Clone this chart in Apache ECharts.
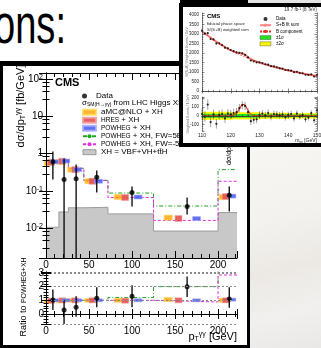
<!DOCTYPE html>
<html><head><meta charset="utf-8">
<script src="https://cdn.jsdelivr.net/npm/echarts@6.0.0/dist/echarts.min.js"></script>
<style>
html,body{margin:0;padding:0;width:321px;height:348px;overflow:hidden;background:#fff;position:relative;font-family:"Liberation Sans",Arial,sans-serif;}
#title{position:absolute;left:-6px;top:-4px;font-size:56px;line-height:56px;transform:scaleX(0.68);transform-origin:0 0;white-space:nowrap;color:#000;}
#photo{position:absolute;left:249px;top:146px;width:72px;height:202px;background:linear-gradient(165deg,#f7f6f3 0%,#f3f2ee 35%,#ece9e5 60%,#f1f0ee 80%,#e9e8e6 100%);}
#frame{position:absolute;left:0;top:61px;width:250px;height:287px;box-sizing:border-box;border-style:solid;border-color:#000;border-width:5px 3px 3px 3px;background:#fff;}
#main{position:absolute;left:0;top:0;width:321px;height:348px;}
#topbar{position:absolute;left:180px;top:0;width:68px;height:4px;background:#000;}
#strip{position:absolute;left:248px;top:0;width:73px;height:3px;background:#e4e4e4;}
#inset{position:absolute;left:179px;top:3px;width:150px;height:144px;box-sizing:border-box;border:4px solid #000;background:#fff;overflow:hidden;}
#insetChart{position:absolute;left:0;top:0;width:142px;height:136px;}
</style></head>
<body>
<div id="title">ons:</div>
<div id="photo"></div>
<div id="frame"></div>
<div id="main"></div>
<div id="strip"></div>
<div id="topbar"></div>
<div id="inset"><div id="insetChart"></div></div>
<script>
// ---------------- main plot data ----------------
const binEdges   = [0, 15, 26, 44, 72, 125, 200, 222];
const xhValues   = [0.0105, 0.027, 0.035, 0.036, 0.024, 0.0083, 0.026];
const fwPosValues= [0.60, 0.69, 0.40, 0.19, 0.087, 0.039, 0.37];
const fwNegValues= [0.60, 0.69, 0.40, 0.19, 0.066, 0.016, 0.18];
const dataX  = [8, 21, 35, 59, 100, 164, 213];
const dataY  = [0.60, 0.20, 0.21, 0.23, 0.090, 0.038, 0.076];
const dataLo = [0.20, 0.001, 0.001, 0.090, 0.038, 0.023, 0.028];
const dataHi = [1.13, 0.73, 0.51, 0.35, 0.13, 0.066, 0.13];
const amcX  = [3, 17, 30, 50, 84, 142, 206];
const amcY  = [0.55, 0.60, 0.37, 0.18, 0.068, 0.019, 0.068];
const hresX = [6, 19, 34, 54, 92, 154, 209];
const hresY = [0.58, 0.62, 0.37, 0.18, 0.066, 0.018, 0.070];
const powX  = [10, 23, 37, 61, 107, 175, 216];
const powY  = [0.60, 0.63, 0.37, 0.18, 0.068, 0.018, 0.072];
// ratio panel
const ratioDataY  = [1.03, 0.30, 0.50, 1.15, 1.30, 2.00, 1.10];
const ratioDataLo = [0.30, -1.0, -0.20, 0.50, 0.50, 1.25, 0.45];
const ratioDataHi = [1.80, 1.00, 1.30, 1.95, 2.10, 2.75, 1.95];
const ratioAmc  = [0.90, 0.95, 1.00, 1.00, 1.00, 1.05, 1.00];
const ratioHres = [0.97, 1.00, 1.00, 1.00, 0.97, 1.00, 1.00];
const ratioPow  = [1.00, 1.00, 1.00, 1.00, 1.00, 1.00, 1.05];
const ratioFwPos = [1.00, 1.00, 1.00, 1.00, 1.20, 2.00, 4.00];
const ratioFwNeg = [1.00, 1.00, 1.00, 1.00, 1.00, 0.88, 2.85];
const xTickLabels = [0, 50, 100, 150, 200];

// ---------------- inset data ----------------
const massPoints = [110,111,112,113,114,115,116,117,118,119,120,121,122,123,124,125,126,127,128,129,130,131,132,133,134,135,136,137,138,139,140,141,142,143,144,145,146,147,148,149,150];
const bkgFit = [3150,3030,2914,2803,2696,2593,2494,2399,2307,2219,2141,2065,1992,1921,1853,1787,1724,1663,1604,1547,1492,1445,1400,1356,1313,1272,1232,1193,1156,1119,1084,1050,1017,985,954,924,895,867,840,813,788];
const sbFit  = [3150,3030,2914,2803,2696,2593,2494,2399,2307,2219,2143,2073,2022,2001,1975,1902,1786,1681,1608,1547,1492,1445,1400,1356,1313,1272,1232,1193,1156,1119,1084,1050,1017,985,954,924,895,867,840,813,788];
const dataCounts = [3170,3020,3039,2733,2711,2503,2504,2419,2277,2244,2156,2095,2032,2006,1973,1897,1764,1603,1559,1507,1502,1470,1405,1386,1303,1292,1247,1198,1171,1104,1094,1070,987,1010,944,934,855,847,870,763,848];
const residuals = [20,-10,125,-70,15,-90,10,20,-30,25,15,30,40,85,120,110,40,-60,-45,-40,10,25,5,30,-10,20,15,5,15,-15,10,20,-30,25,-10,10,-40,-20,30,-50,60];
const residErr = [60,58,57,56,55,54,53,52,51,50,50,49,48,47,46,46,45,44,43,43,42,41,41,40,40,39,38,38,37,37,36,36,35,35,34,34,33,33,32,32,31];
const signalMass  = [110,119.5,120,120.5,121,121.5,122,122.5,123,123.5,124,124.5,125,125.5,126,126.5,127,127.5,128,128.5,129,150];
const signalShape = [0,0,2,4,8,16,30,52,80,106,122,128,115,90,62,36,18,8,4,1,0,0];
const bandEdges = [110, 120, 130, 140, 150];
const band1Sigma = [22, 20, 17, 15];
const band2Sigma = [45, 40, 34, 30];

// ---------------- helpers ----------------
const FONT = '"Liberation Sans", Arial, sans-serif';
const Y_MIN = 0.00157, Y_MAX = 145, R_MIN = -0.73, R_MAX = 3.07, X_MAX = 222;
function steps(edges, vals){ const o=[]; for(let i=0;i<vals.length;i++) o.push([edges[i], vals[i]]); o.push([edges[edges.length-1], vals[vals.length-1]]); return o; }
function pairs(xs, ys){ return xs.map((x,i)=>[x, ys[i]]); }
function errData(xs, lo, hi, floor){ return xs.map((x,i)=>[x, Math.max(lo[i], floor), hi[i]]); }
function errSeries(name, xi, yi, data, color, w, z){
  return {type:'custom', name, xAxisIndex:xi, yAxisIndex:yi, z:z||4, silent:true, data,
    encode:{x:0, y:[1,2]},
    renderItem:(p, api)=>{ const a=api.coord([api.value(0), api.value(1)]); const b=api.coord([api.value(0), api.value(2)]);
      return {type:'line', shape:{x1:a[0],y1:a[1],x2:b[0],y2:b[1]}, style:{stroke:color, lineWidth:w}}; }};
}
function logLabel(v){ const l=Math.log10(v); const e=Math.round(l); if(Math.abs(l-e)>1e-6) return ''; if(e===0) return '1'; if(e===1) return '10'; return '10{sup|'+e+'}'; }
const axLine = {show:true, lineStyle:{color:'#000', width:1}};
function xAx(grid, pos, labels, tl, ml){
  return {type:'value', gridIndex:grid, position:pos, min:0, max:X_MAX, interval:50, z:10,
    axisLine:axLine, splitLine:{show:false},
    axisTick:{show:true, inside:true, length:tl, lineStyle:{color:'#000'}},
    minorTick:{show:true, splitNumber:5, length:ml, lineStyle:{color:'#000'}},
    axisLabel:{show:labels, fontSize:10, color:'#000', margin:2, fontFamily:FONT,
      formatter:v=> xTickLabels.indexOf(v)>=0 ? String(v) : ''}};
}
const markerStyle = {
  amc:{color:'#ffa200', borderColor:'#ffd84a', borderWidth:0.8},
  hres:{color:'#e4504f', borderColor:'#f2a0a0', borderWidth:0.6, opacity:0.9},
  pow:{color:'#4f60f2', borderColor:'#a8b0ff', borderWidth:0.6, opacity:0.9}
};
const richSmall = {
  sup:{fontSize:7, verticalAlign:'top', lineHeight:8, fontFamily:FONT, color:'#000'},
  sub:{fontSize:7, verticalAlign:'bottom', lineHeight:8, fontFamily:FONT, color:'#000'},
  sc:{fontSize:7, fontFamily:FONT, color:'#000'}
};

const mainChart = echarts.init(document.getElementById('main'), null, {renderer:'canvas'});
mainChart.setOption({
  animation:false,
  backgroundColor:'transparent',
  textStyle:{fontFamily:FONT},
  grid:[
    {left:46, top:73, width:191, height:185, outerBoundsMode:'none', containLabel:false},
    {left:46, top:272, width:191, height:52, outerBoundsMode:'none', containLabel:false}
  ],
  xAxis:[ xAx(0,'bottom',true,7,4), xAx(0,'top',false,7,4), xAx(1,'bottom',true,5,3), xAx(1,'top',false,5,3) ],
  yAxis:[
    {type:'log', logBase:10, gridIndex:0, position:'left', min:Y_MIN, max:Y_MAX, z:10, axisLine:axLine, splitLine:{show:false},
     axisTick:{inside:true, length:7, lineStyle:{color:'#000'}}, minorTick:{show:true, splitNumber:5, length:3.5, lineStyle:{color:'#000'}},
     axisLabel:{fontSize:10, color:'#000', margin:3, fontFamily:FONT, formatter:logLabel, rich:richSmall}},
    {type:'log', logBase:10, gridIndex:0, position:'right', min:Y_MIN, max:Y_MAX, z:10, axisLine:axLine, splitLine:{show:false},
     axisTick:{inside:true, length:7, lineStyle:{color:'#000'}}, minorTick:{show:true, splitNumber:5, length:3.5, lineStyle:{color:'#000'}},
     axisLabel:{show:false}},
    {type:'value', gridIndex:1, position:'left', min:R_MIN, max:R_MAX, splitNumber:4, z:10, axisLine:axLine,
     splitLine:{show:true, lineStyle:{type:[2,2], color:'#8a8a8a', width:1}},
     axisTick:{inside:true, length:5, lineStyle:{color:'#000'}}, minorTick:{show:true, splitNumber:5, length:2.5, lineStyle:{color:'#000'}},
     axisLabel:{fontSize:10, color:'#000', margin:2, fontFamily:FONT, formatter:v=>Number.isInteger(v)?String(v):''}},
    {type:'value', gridIndex:1, position:'right', min:R_MIN, max:R_MAX, splitNumber:4, z:10, axisLine:axLine, splitLine:{show:false},
     axisTick:{inside:true, length:5, lineStyle:{color:'#000'}}, minorTick:{show:true, splitNumber:5, length:2.5, lineStyle:{color:'#000'}},
     axisLabel:{show:false}}
  ],
  legend:[
    {left:82, top:92, padding:0, orient:'vertical', itemWidth:13, itemHeight:5, itemGap:0, z:4,
     textStyle:{fontSize:8, lineHeight:8, color:'#000', fontFamily:FONT},
     data:[{name:'Data', icon:'circle'}]},
    {left:82, top:108.2, padding:0, orient:'vertical', itemWidth:13, itemHeight:5, itemGap:0, z:4,
     textStyle:{fontSize:8, lineHeight:7.7, color:'#000', fontFamily:FONT,
       rich:{sc:{fontSize:6.5, lineHeight:7.7, fontFamily:FONT, color:'#000'}, sup:{fontSize:5, lineHeight:5, verticalAlign:'top', fontFamily:FONT, color:'#000'}}},
     formatter:n=>n.replace('HRES','{sc|HRES}').replace('POWHEG','{sc|POWHEG}').replace('E-5','E{sup|-5}'),
     data:[{name:'aMC@NLO + XH', icon:'rect'}, {name:'HRES + XH', icon:'rect'}, {name:'POWHEG + XH', icon:'rect'},
           'POWHEG + XH, FW=5E-5 GeV', 'POWHEG + XH, FW=-5E-5 GeV',
           {name:'XH = VBF+VH+tt\u0304H', icon:'rect', itemStyle:{color:'#c8c8c8', borderColor:'#888', borderWidth:0.8}}]}
  ],
  graphic:[
    {type:'text', x:55, y:77, z:20, style:{text:'CMS', font:'bold 11px "Liberation Sans", Arial', fill:'#000'}},
    {type:'text', x:82, y:103, z:4, style:{text:'\u03c3{sub|SM(H\u2192\u03b3\u03b3)} from LHC Higgs XS WG', fontSize:8, fontFamily:FONT, fill:'#000', verticalAlign:'middle',
      rich:{sub:{fontSize:5, lineHeight:9, verticalAlign:'bottom', fontFamily:FONT, color:'#000'}}}},
    {type:'text', x:21, y:106, rotation:Math.PI/2, z:20, style:{text:'d\u03c3/dp{sub|T}{sup|\u03b3\u03b3} [fb/GeV]', fontSize:11, fontFamily:FONT, fill:'#000', align:'center', verticalAlign:'middle',
      rich:{sub:{fontSize:7, lineHeight:12, verticalAlign:'bottom', fontFamily:FONT, color:'#000'}, sup:{fontSize:7, lineHeight:12, verticalAlign:'top', fontFamily:FONT, color:'#000'}}}},
    {type:'text', x:24, y:297, rotation:Math.PI/2, z:20, style:{text:'Ratio to {sc|POWHEG+XH}', fontSize:9, fontFamily:FONT, fill:'#000', align:'center', verticalAlign:'middle',
      rich:{sc:{fontSize:7, fontFamily:FONT, color:'#000'}}}},
    {type:'text', x:237, y:337, z:20, style:{text:'p{sub|T}{sup|\u03b3\u03b3} [GeV]', fontSize:11, fontFamily:FONT, fill:'#000', align:'right', verticalAlign:'middle',
      rich:{sub:{fontSize:7, lineHeight:12, verticalAlign:'bottom', fontFamily:FONT, color:'#000'}, sup:{fontSize:7, lineHeight:12, verticalAlign:'top', fontFamily:FONT, color:'#000'}}}},
    {type:'text', x:229, y:156, rotation:Math.PI/2, z:20, style:{text:'d\u03c3/dp', fontSize:7, fontFamily:FONT, fill:'#000', align:'center', verticalAlign:'middle'}}
  ],
  series:[
    {name:'XH = VBF+VH+tt\u0304H', type:'line', step:'end', xAxisIndex:0, yAxisIndex:0, z:1, symbol:'none', silent:true,
     data:steps(binEdges, xhValues), lineStyle:{color:'#9c9c9c', width:1}, itemStyle:{color:'#c8c8c8'},
     areaStyle:{color:'#c8c8c8', opacity:1, origin:'start'}},
    {name:'POWHEG + XH, FW=5E-5 GeV', type:'line', step:'end', xAxisIndex:0, yAxisIndex:0, z:2, symbol:'none', silent:true,
     data:steps(binEdges, fwPosValues), lineStyle:{color:'#1fa51f', width:1, type:[4,2,1,2]}, itemStyle:{color:'#1fa51f'}},
    {name:'POWHEG + XH, FW=-5E-5 GeV', type:'line', step:'end', xAxisIndex:0, yAxisIndex:0, z:2, symbol:'none', silent:true,
     data:steps(binEdges, fwNegValues), lineStyle:{color:'#e62ee6', width:1, type:[3,2]}, itemStyle:{color:'#e62ee6'}},
    {name:'aMC@NLO + XH', type:'scatter', xAxisIndex:0, yAxisIndex:0, z:3, symbol:'rect', symbolSize:[8,5], data:pairs(amcX, amcY), itemStyle:markerStyle.amc},
    {name:'HRES + XH', type:'scatter', xAxisIndex:0, yAxisIndex:0, z:3, symbol:'rect', symbolSize:[7,6], data:pairs(hresX, hresY), itemStyle:markerStyle.hres},
    {name:'POWHEG + XH', type:'scatter', xAxisIndex:0, yAxisIndex:0, z:3, symbol:'rect', symbolSize:[8,4], data:pairs(powX, powY), itemStyle:markerStyle.pow},
    errSeries('Data err', 0, 0, errData(dataX, dataLo, dataHi, Y_MIN), '#000', 1.3, 4),
    {name:'Data', type:'scatter', xAxisIndex:0, yAxisIndex:0, z:5, symbol:'circle', symbolSize:5, data:pairs(dataX, dataY), itemStyle:{color:'#000'}},
    // ratio panel
    {name:'r fwpos', type:'line', step:'end', xAxisIndex:2, yAxisIndex:2, z:2, symbol:'none', silent:true,
     data:steps(binEdges, ratioFwPos), lineStyle:{color:'#1fa51f', width:1, type:[4,2,1,2]}},
    {name:'r fwneg', type:'line', step:'end', xAxisIndex:2, yAxisIndex:2, z:2, symbol:'none', silent:true,
     data:steps(binEdges, ratioFwNeg), lineStyle:{color:'#e62ee6', width:1, type:[3,2]}},
    {name:'r amc', type:'scatter', xAxisIndex:2, yAxisIndex:2, z:3, symbol:'rect', symbolSize:[8,4], data:pairs(amcX, ratioAmc), itemStyle:markerStyle.amc},
    {name:'r hres', type:'scatter', xAxisIndex:2, yAxisIndex:2, z:3, symbol:'rect', symbolSize:[7,5], data:pairs(hresX, ratioHres), itemStyle:markerStyle.hres},
    {name:'r pow', type:'scatter', xAxisIndex:2, yAxisIndex:2, z:3, symbol:'rect', symbolSize:[8,3], data:pairs(powX, ratioPow), itemStyle:markerStyle.pow},
    errSeries('r data err', 2, 2, errData(dataX, ratioDataLo, ratioDataHi, R_MIN), '#000', 1.3, 4),
    {name:'r data', type:'scatter', xAxisIndex:2, yAxisIndex:2, z:5, symbol:'circle', symbolSize:5, data:pairs(dataX, ratioDataY), itemStyle:{color:'#000'}}
  ]
});

// ---------------- inset chart ----------------
const IF = 4.5;
function iAx(grid, pos, labels){
  return {type:'value', gridIndex:grid, position:pos, min:110, max:150, interval:10, z:10,
    axisLine:{show:true, lineStyle:{color:'#333', width:0.6}}, splitLine:{show:false},
    axisTick:{inside:true, length:2.5, lineStyle:{color:'#333', width:0.6}},
    minorTick:{show:true, splitNumber:5, length:1.3, lineStyle:{color:'#333', width:0.5}},
    axisLabel:{show:labels, fontSize:5, color:'#222', margin:2, fontFamily:FONT}};
}
function iyAx(grid, pos, labels, min, max, extra){
  return Object.assign({type:'value', gridIndex:grid, position:pos, min, max, z:10,
    axisLine:{show:true, lineStyle:{color:'#333', width:0.6}}, splitLine:{show:false},
    axisTick:{inside:true, length:2.5, lineStyle:{color:'#333', width:0.6}},
    minorTick:{show:true, splitNumber:5, length:1.3, lineStyle:{color:'#333', width:0.5}},
    axisLabel:{show:labels, fontSize:IF, color:'#222', margin:3, fontFamily:FONT}}, extra);
}
function bandSeries(name, sig, color){
  return {type:'custom', name, xAxisIndex:2, yAxisIndex:2, z:2, silent:true, itemStyle:{color},
    encode:{x:[0,1], y:[2,3]},
    data: sig.map((s,i)=>[bandEdges[i], bandEdges[i+1], -s, s]),
    renderItem:(p, api)=>{ const a=api.coord([api.value(0), api.value(3)]); const b=api.coord([api.value(1), api.value(2)]);
      return {type:'rect', shape:{x:a[0], y:a[1], width:b[0]-a[0]+0.5, height:b[1]-a[1]}, style:{fill:color}}; }};
}
const insetChart = echarts.init(document.getElementById('insetChart'), null, {renderer:'canvas'});
insetChart.setOption({
  animation:false,
  backgroundColor:'#fff',
  textStyle:{fontFamily:FONT},
  grid:[
    {left:19, top:6, width:115, height:78, outerBoundsMode:'none', containLabel:false},
    {left:19, top:90, width:115, height:34, outerBoundsMode:'none', containLabel:false}
  ],
  xAxis:[ iAx(0,'bottom',false), iAx(0,'top',false), iAx(1,'bottom',true), iAx(1,'top',false) ],
  yAxis:[
    iyAx(0,'left',true,0,4100,{interval:500, axisLabel:{show:true, fontSize:IF, color:'#222', margin:3, fontFamily:FONT, formatter:v=>v%500===0?String(v):''}}),
    iyAx(0,'right',false,0,4100,{interval:500}),
    iyAx(1,'left',true,-170,210,{splitNumber:4, axisLabel:{show:true, fontSize:IF, color:'#222', margin:3, fontFamily:FONT, formatter:v=>v%100===0?String(v):''}}),
    iyAx(1,'right',false,-170,210,{splitNumber:4})
  ],
  legend:{left:76, top:8.9, padding:0, orient:'vertical', itemWidth:11, itemHeight:4, itemGap:0,
    textStyle:{fontSize:4.5, lineHeight:6.2, color:'#000', fontFamily:FONT},
    data:[{name:'Data ', icon:'circle'}, 'S+B fit sum', 'B component',
          {name:'\u00b11\u03c3', icon:'rect', itemStyle:{color:'#22e022', borderColor:'#444', borderWidth:0.4}},
          {name:'\u00b12\u03c3', icon:'rect', itemStyle:{color:'#f8f800', borderColor:'#444', borderWidth:0.4}}]},
  graphic:[
    {type:'text', x:134, y:3, z:20, style:{text:'19.7 fb{sup|-1} (8 TeV)', fontSize:4.5, fontFamily:FONT, fill:'#222', align:'right', verticalAlign:'middle',
      rich:{sup:{fontSize:3.5, lineHeight:4, verticalAlign:'top', fontFamily:FONT, color:'#222'}}}},
    {type:'text', x:24, y:9.5, z:20, style:{text:'CMS', font:'bold 6px "Liberation Sans", Arial', fill:'#000', verticalAlign:'middle'}},
    {type:'text', x:24, y:17, z:20, style:{text:'fiducial phase space', fontSize:4.2, fontFamily:FONT, fill:'#222', verticalAlign:'middle'}},
    {type:'text', x:24, y:23, z:20, style:{text:'S/(S+B) weighted sum', fontSize:4.2, fontFamily:FONT, fill:'#222', verticalAlign:'middle'}},
    {type:'text', x:4, y:45, rotation:Math.PI/2, z:20, style:{text:'S/(S+B) Weighted Events / GeV', fontSize:3.5, fontFamily:FONT, fill:'#666', align:'center', verticalAlign:'middle'}},
    {type:'text', x:5, y:107, rotation:Math.PI/2, z:20, style:{text:'Weighted Events / 1 GeV', fontSize:3.5, fontFamily:FONT, fill:'#666', align:'center', verticalAlign:'middle'}},
    {type:'text', x:134, y:134, z:20, style:{text:'m{sub|\u03b3\u03b3} [GeV]', fontSize:5, fontFamily:FONT, fill:'#222', align:'right', verticalAlign:'middle',
      rich:{sub:{fontSize:3.5, lineHeight:6, verticalAlign:'bottom', fontFamily:FONT, color:'#222'}}}}
  ],
  series:[
    errSeries('up err', 0, 0, massPoints.map((m,i)=>[m, dataCounts[i]-residErr[i], dataCounts[i]+residErr[i]]), '#333', 0.6, 3),
    {name:'B component', type:'line', xAxisIndex:0, yAxisIndex:0, z:4, symbol:'none', smooth:true,
     data:pairs(massPoints, bkgFit), lineStyle:{color:'#e0301c', width:0.8, type:[2,1]}, itemStyle:{color:'#e0301c'}},
    {name:'S+B fit sum', type:'line', xAxisIndex:0, yAxisIndex:0, z:3, symbol:'none', smooth:true,
     data:pairs(massPoints, sbFit), lineStyle:{color:'#ff8585', width:2}, itemStyle:{color:'#ff8585'}},
    {name:'Data ', type:'scatter', xAxisIndex:0, yAxisIndex:0, z:5, symbol:'circle', symbolSize:2.2, data:pairs(massPoints, dataCounts), itemStyle:{color:'#000'}},
    bandSeries('\u00b12\u03c3', band2Sigma, '#f8f800'),
    bandSeries('\u00b11\u03c3', band1Sigma, '#22e022'),
    {name:'S fit', type:'line', xAxisIndex:2, yAxisIndex:2, z:4, symbol:'none', smooth:true, silent:true,
     data:pairs(signalMass, signalShape), lineStyle:{color:'#e8331e', width:1.1}},
    errSeries('res err', 2, 2, massPoints.map((m,i)=>[m, residuals[i]-residErr[i], residuals[i]+residErr[i]]), '#444', 0.5, 3),
    {name:'residuals', type:'scatter', xAxisIndex:2, yAxisIndex:2, z:5, symbol:'circle', symbolSize:2.2, data:pairs(massPoints, residuals), itemStyle:{color:'#000'}}
  ]
});
</script>
</body></html>
